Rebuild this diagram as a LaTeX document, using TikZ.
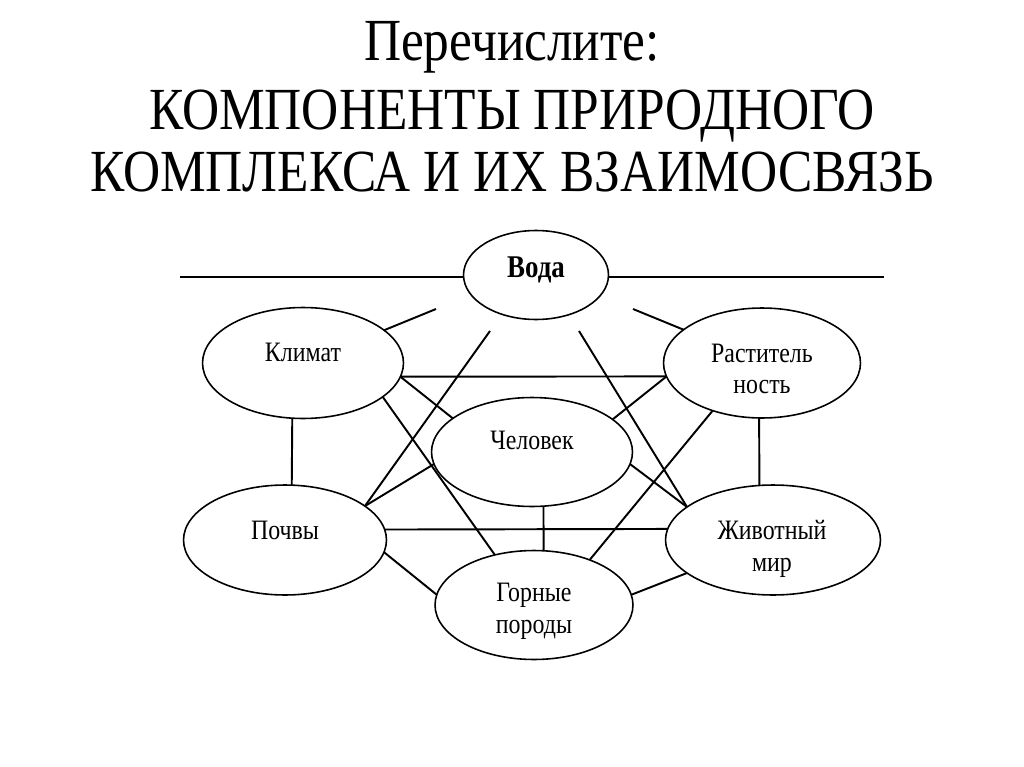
\documentclass[tikz,border=0pt]{standalone}
\usepackage{fontspec}
\setmainfont{Liberation Serif}
\newfontfamily\diagfont{Liberation Serif}[FakeStretch=0.85]
\newfontfamily\titlefont{Liberation Serif}[FakeStretch=0.86]
\usetikzlibrary{shapes.geometric}
\begin{document}
\begin{tikzpicture}[x=0.02cm,y=-0.02cm,
  comp/.style={ellipse,draw,line width=0.9pt,inner sep=0pt,outer sep=0pt},
  lbl/.style={font=\diagfont\fontsize{16}{18}\selectfont,anchor=base,inner sep=0pt},
  lblb/.style={font=\diagfont\bfseries\fontsize{18}{20}\selectfont,anchor=base,inner sep=0pt},
  ttl/.style={font=\titlefont\fontsize{34}{37}\selectfont,anchor=base,inner sep=0pt},
  link/.style={line width=1.1pt}]
\useasboundingbox (0,0) rectangle (1024,767);
\fill[white] (0,0) rectangle (1024,767);
% title
\node[ttl] (t1) at (512,61) {Перечислите:};
\node[ttl] (t2) at (512,130) {КОМПОНЕНТЫ ПРИРОДНОГО};
\node[ttl] (t3) at (512,191) {КОМПЛЕКСА И ИХ ВЗАИМОСВЯЗЬ};
% components
\node[comp,minimum width=2.9cm,minimum height=1.78cm] (V) at (536,275) {};
\node[comp,minimum width=4.02cm,minimum height=2.22cm] (K) at (303,363) {};
\node[comp,minimum width=3.94cm,minimum height=2.2cm] (R) at (762,363) {};
\node[comp,minimum width=4.02cm,minimum height=2.18cm] (C) at (532,452) {};
\node[comp,minimum width=4.06cm,minimum height=2.2cm] (P) at (285,540) {};
\node[comp,minimum width=4.3cm,minimum height=2.2cm] (Zh) at (773,540) {};
\node[comp,minimum width=3.96cm,minimum height=2.18cm] (G) at (534,605) {};
% labels
\node[lblb] (tV) at (536,277) {Вода};
\node[lbl] (tK) at (303,361) {Климат};
\node[lbl] (tR1) at (762,362) {Раститель};
\node[lbl] (tR2) at (762,393) {ность};
\node[lbl] (tC) at (532,449) {Человек};
\node[lbl] (tP) at (285,539) {Почвы};
\node[lbl] (tZ1) at (772,539) {Животный};
\node[lbl] (tZ2) at (772,571) {мир};
\node[lbl] (tG1) at (534,601) {Горные};
\node[lbl] (tG2) at (534,633) {породы};
% free ends
\coordinate (hl) at (180,277);
\coordinate (hr) at (884,277);
\coordinate (vk) at (436,309);
\coordinate (vr) at (633,309);
\coordinate (vp) at (490,331);
\coordinate (vz) at (579,331);
% connectors
\draw[link] (hl) -- (hl -| V.west);
\draw[link] (hr -| V.east) -- (hr);
\draw[link] (vk) -- (K.22);
\draw[link] (vr) -- (R.157);
\draw[link] (vp) -- (P.23);
\draw[link] (vz) -- (Zh.159);
\draw[link] (K.-8) -- (R.188);
\draw[link] (K.-8) -- (C.157);
\draw[link] (K.-23) -- (G.128);
\draw[link] (R.188) -- (C.22);
\draw[link] (R.224) -- (G.39);
\draw[link] (P.23) -- (C.187);
\draw[link] (P.6) -- (Zh.174);
\draw[link] (P.-7) -- (G.174);
\draw[link] (Zh.201) -- (G.6);
\draw[link] (C.-7) -- (Zh.159);
\draw[link] (K.259) -- (P.83);
\draw[link] (R.267) -- (Zh.104);
\draw[link] (C.282) -- (G.80);
\end{tikzpicture}
\end{document}
